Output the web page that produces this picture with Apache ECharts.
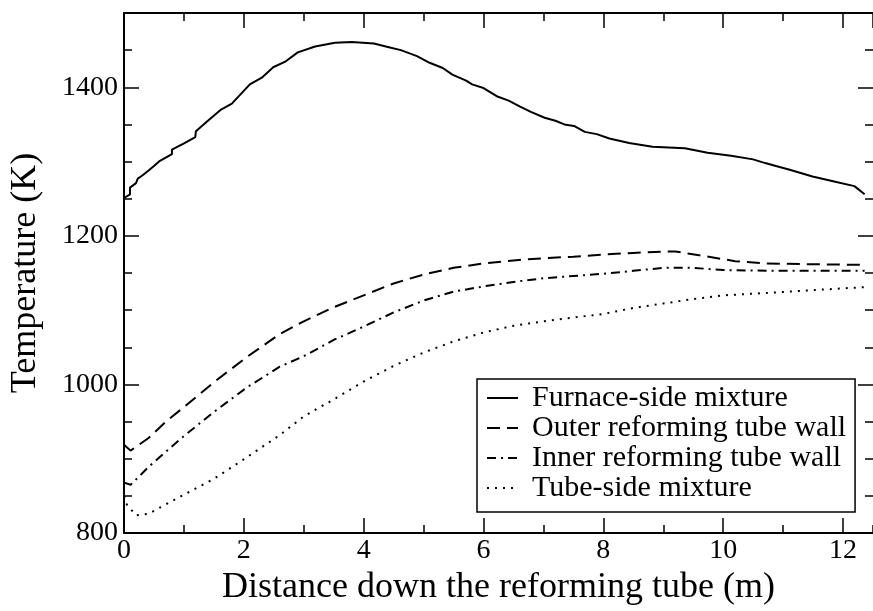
<!DOCTYPE html>
<html>
<head>
<meta charset="utf-8">
<script src="https://cdn.jsdelivr.net/npm/echarts@6/dist/echarts.min.js"></script>
<style>html,body{margin:0;padding:0;background:#fff;overflow:hidden}#c{width:873px;height:611px}</style>
</head>
<body>
<div id="c"></div>
<script>
const seriesNames = ['Furnace-side mixture', 'Outer reforming tube wall', 'Inner reforming tube wall', 'Tube-side mixture'];

const xFurnace = [0, 0.1, 0.1, 0.2, 0.23, 0.3, 0.41, 0.5, 0.6, 0.8, 0.8, 1.01, 1.19, 1.2, 1.4, 1.62, 1.8, 2.1, 2.3, 2.49, 2.7, 2.9, 3.19, 3.52, 3.8, 4.17, 4.42, 4.62, 4.89, 5.1, 5.32, 5.48, 5.71, 5.81, 6.0, 6.22, 6.42, 6.61, 6.79, 7.02, 7.2, 7.35, 7.51, 7.69, 7.89, 8.1, 8.43, 8.82, 9.36, 9.74, 10.13, 10.5, 10.7, 10.88, 11.11, 11.49, 11.87, 12.19, 12.36];
const tFurnace = [1251, 1256, 1265, 1271, 1277, 1281, 1288, 1294, 1301, 1310, 1316, 1325, 1333, 1341, 1355, 1370, 1378, 1404, 1413, 1427, 1435, 1447, 1455, 1460, 1461, 1459, 1454, 1450, 1442, 1433, 1426, 1417, 1409, 1404, 1399, 1388, 1382, 1374, 1367, 1359, 1355, 1350, 1348, 1340, 1337, 1331, 1325, 1320, 1318, 1312, 1308, 1303, 1298, 1294, 1289, 1280, 1273, 1267, 1256];

const xOuter = [0, 0.11, 0.41, 0.7, 0.96, 1.5, 2.05, 2.6, 3.0, 3.5, 4.0, 4.5, 5.0, 5.5, 6.0, 6.5, 7.0, 7.5, 8.0, 8.5, 9.0, 9.2, 9.6, 10.2, 10.7, 11.4, 12.36];
const tOuter = [919, 911, 928, 950, 967, 1003, 1037, 1068, 1085, 1104, 1120, 1136, 1148, 1157, 1163, 1167, 1170, 1172, 1175, 1177, 1179, 1179, 1174, 1166, 1163, 1162, 1161];

const xInner = [0, 0.11, 0.41, 0.96, 1.5, 2.05, 2.6, 3.0, 3.5, 4.0, 4.5, 5.0, 5.5, 6.0, 6.5, 7.0, 7.5, 8.0, 8.5, 9.0, 9.5, 10.0, 10.9, 12.36];
const tInner = [868, 865, 889, 928, 963, 996, 1024, 1038, 1060, 1078, 1097, 1113, 1125, 1132, 1138, 1143, 1146, 1149, 1153, 1157, 1157, 1154, 1153, 1153];

const xTube = [0, 0.05, 0.2, 0.41, 0.96, 1.5, 2.05, 2.6, 3.0, 3.5, 4.0, 4.5, 5.0, 5.5, 6.0, 6.5, 7.0, 7.5, 8.0, 8.5, 9.0, 9.5, 10.0, 10.9, 11.7, 12.36];
const tTube = [850, 838, 824, 826, 850, 873, 902, 932, 957, 980, 1004, 1025, 1043, 1058, 1070, 1079, 1085, 1090, 1095, 1103, 1109, 1115, 1120, 1124, 1128, 1131];

const xTitle = 'Distance down the reforming tube (m)';
const yTitle = 'Temperature (K)';

const FONT = '"Liberation Serif", "DejaVu Serif", serif';
const pairs = (xs, ys) => xs.map((x, i) => [x, ys[i]]);
const plain = v => String(v);

const XMIN = 0, XMAX = 12.5, YMIN = 800, YMAX = 1500;
const lineC = '#000';

function xAx(pos, interval, len, opts) {
  return Object.assign({
    type: 'value', position: pos, min: XMIN, max: XMAX, interval: interval,
    axisLine: { show: false, onZero: false },
    axisTick: { show: true, inside: true, length: len, lineStyle: { color: lineC, width: 1.5 } },
    axisLabel: { show: false },
    splitLine: { show: false }
  }, opts || {});
}
function yAx(pos, interval, len, opts) {
  return Object.assign({
    type: 'value', position: pos, min: YMIN, max: YMAX, interval: interval,
    axisLine: { show: false, onZero: false },
    axisTick: { show: true, inside: true, length: len, lineStyle: { color: lineC, width: 1.5 } },
    axisLabel: { show: false },
    splitLine: { show: false }
  }, opts || {});
}

const chart = echarts.init(document.getElementById('c'), null, { renderer: 'canvas' });
chart.setOption({
  animation: false,
  backgroundColor: '#fff',
  grid: { left: 118, top: 13, width: 764, height: 535, containLabel: false },
  xAxis: [
    xAx('bottom', 2, 15, {
      axisLine: { show: true, onZero: false, lineStyle: { color: lineC, width: 2 } },
      axisLabel: { show: true, fontFamily: FONT, fontSize: 28, color: '#000', margin: 4, showMaxLabel: false, formatter: plain },
      name: xTitle, nameLocation: 'middle', nameGap: 30,
      nameTextStyle: { fontFamily: FONT, fontSize: 36, color: '#000' }
    }),
    xAx('bottom', 1, 8),
    xAx('top', 2, 15, { axisLine: { show: true, onZero: false, lineStyle: { color: lineC, width: 2 } } }),
    xAx('top', 1, 8)
  ],
  yAxis: [
    yAx('left', 200, 15, {
      axisLine: { show: true, onZero: false, lineStyle: { color: lineC, width: 2 } },
      axisLabel: { show: true, fontFamily: FONT, fontSize: 28, color: '#000', margin: 6, showMaxLabel: false, formatter: plain },
      name: yTitle, nameLocation: 'middle', nameGap: 80,
      nameTextStyle: { fontFamily: FONT, fontSize: 36, color: '#000' }
    }),
    yAx('left', 50, 8),
    yAx('right', 200, 15),
    yAx('right', 50, 8)
  ],
  legend: {
    orient: 'vertical', left: 477, top: 379,
    data: seriesNames,
    itemWidth: 31, itemHeight: 20, itemGap: 0,
    padding: [4, 9, 9, 9],
    borderColor: '#000', borderWidth: 1.5, borderRadius: 0,
    backgroundColor: '#fff',
    itemStyle: { opacity: 0 },
    textStyle: { fontFamily: FONT, fontSize: 30, color: '#000', lineHeight: 30, padding: [0, 0, 0, 9] }
  },
  series: [
    { name: seriesNames[0], type: 'line', data: pairs(xFurnace, tFurnace), symbol: 'none', lineStyle: { color: '#000', width: 2, type: 'solid' }, itemStyle: { color: '#000' } },
    { name: seriesNames[1], type: 'line', data: pairs(xOuter, tOuter), symbol: 'none', lineStyle: { color: '#000', width: 2, type: [13, 7] }, itemStyle: { color: '#000' } },
    { name: seriesNames[2], type: 'line', data: pairs(xInner, tInner), symbol: 'none', lineStyle: { color: '#000', width: 2, type: [9, 5, 2, 5] }, itemStyle: { color: '#000' } },
    { name: seriesNames[3], type: 'line', data: pairs(xTube, tTube), symbol: 'none', lineStyle: { color: '#000', width: 2, type: [2, 6] }, itemStyle: { color: '#000' } }
  ]
});
</script>
</body>
</html>
